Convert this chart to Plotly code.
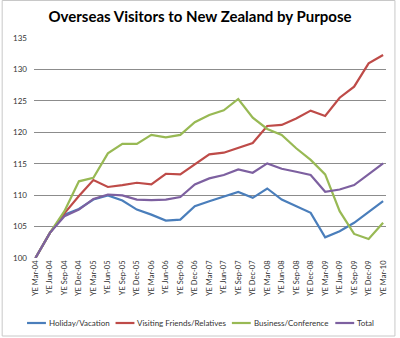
import plotly.graph_objects as go

quarters = ["YE Mar-04", "YE Jun-04", "YE Sep-04", "YE Dec-04",
            "YE Mar-05", "YE Jun-05", "YE Sep-05", "YE Dec-05",
            "YE Mar-06", "YE Jun-06", "YE Sep-06", "YE Dec-06",
            "YE Mar-07", "YE Jun-07", "YE Sep-07", "YE Dec-07",
            "YE Mar-08", "YE Jun-08", "YE Sep-08", "YE Dec-08",
            "YE Mar-09", "YE Jun-09", "YE Sep-09", "YE Dec-09",
            "YE Mar-10"]

holiday = [100, 104.0, 106.9, 107.8, 109.3, 109.95, 109.15, 107.7, 106.9, 105.96,
           106.1, 108.25, 109.04, 109.73, 110.5, 109.57, 111.06, 109.3, 108.24,
           107.18, 103.3, 104.26, 105.6, 107.3, 109.04]

friends = [100, 104.0, 107.1, 109.85, 112.4, 111.3, 111.6, 111.97, 111.7, 113.4,
           113.3, 114.9, 116.5, 116.75, 117.5, 118.3, 121.0, 121.17, 122.2,
           123.45, 122.6, 125.5, 127.26, 130.97, 132.3]

business = [100, 104.0, 107.45, 112.2, 112.77, 116.65, 118.15, 118.15, 119.58, 119.2,
            119.58, 121.6, 122.76, 123.5, 125.3, 122.33, 120.53, 119.58, 117.46,
            115.6, 113.3, 107.45, 103.83, 103.03, 105.6]

total = [100, 104.0, 106.65, 107.7, 109.4, 110.1, 109.95, 109.3, 109.2, 109.3,
         109.7, 111.7, 112.66, 113.2, 114.1, 113.56, 115.05, 114.2, 113.72,
         113.2, 110.53, 110.9, 111.6, 113.3, 115.05]

series_names = ["Holiday/Vacation", "Visiting Friends/Relatives",
                "Business/Conference", "Total"]
series_values = [holiday, friends, business, total]
colors = ["#4A7EBB", "#BE4B48", "#98B954", "#7D60A0"]

y_ticks = [100, 105, 110, 115, 120, 125, 130, 135]

FONT = "Lato, 'Open Sans', sans-serif"

W, H = 400, 338
ml, mr, mt, mb = 34, 12, 38, 80
pw, ph = W - ml - mr, H - mt - mb


def px_to_paper_x(px):
    return (px - ml) / pw


def px_to_paper_y(py):
    return (H - mb - py) / ph


fig = go.Figure()
for name, vals, col in zip(series_names, series_values, colors):
    fig.add_trace(go.Scatter(x=quarters, y=vals, mode="lines", name=name,
                             line=dict(color=col, width=2.2), showlegend=False))

# outer chart border
fig.add_shape(type="rect", xref="paper", yref="paper",
              x0=px_to_paper_x(2), x1=px_to_paper_x(397),
              y0=px_to_paper_y(336), y1=px_to_paper_y(0.5),
              line=dict(color="#C8C8C8", width=1), fillcolor="rgba(0,0,0,0)",
              layer="below")

# legend (one row, short line keys as in the reference)
legend_key_x = [27, 116, 233, 337]
key_len = 19
legend_y = px_to_paper_y(323)
for name, col, kx in zip(series_names, colors, legend_key_x):
    fig.add_shape(type="line", xref="paper", yref="paper",
                  x0=px_to_paper_x(kx), x1=px_to_paper_x(kx + key_len),
                  y0=legend_y, y1=legend_y,
                  line=dict(color=col, width=2.2))
    fig.add_annotation(xref="paper", yref="paper",
                       x=px_to_paper_x(kx + key_len + 1), y=legend_y,
                       xanchor="left", yanchor="middle", showarrow=False,
                       text=name, font=dict(size=8, family=FONT, color="#333333"))

fig.update_layout(
    width=W, height=H,
    margin=dict(l=ml, r=mr, t=mt, b=mb),
    paper_bgcolor="white", plot_bgcolor="white",
    font=dict(family=FONT, color="#222222"),
    title=dict(text="<b>Overseas Visitors to New Zealand by Purpose</b>",
               x=0.5, xanchor="center", xref="container", y=1 - 17 / H, yanchor="middle",
               font=dict(size=15, family=FONT, color="#000000")),
    showlegend=False,
    xaxis=dict(type="category", tickangle=-90, showgrid=False,
               tickfont=dict(size=7.5, family=FONT, color="#333333"),
               showline=False, ticks="", range=[-0.1, 24.2], zeroline=False),
    yaxis=dict(range=[100, 135], tickvals=y_ticks, showgrid=True,
               gridcolor="#8C8C8C", gridwidth=1, zeroline=False, showline=False,
               tickfont=dict(size=8, family=FONT, color="#333333"), ticks="",
               ticklabelstandoff=6),
)

fig.write_html("out.html")
